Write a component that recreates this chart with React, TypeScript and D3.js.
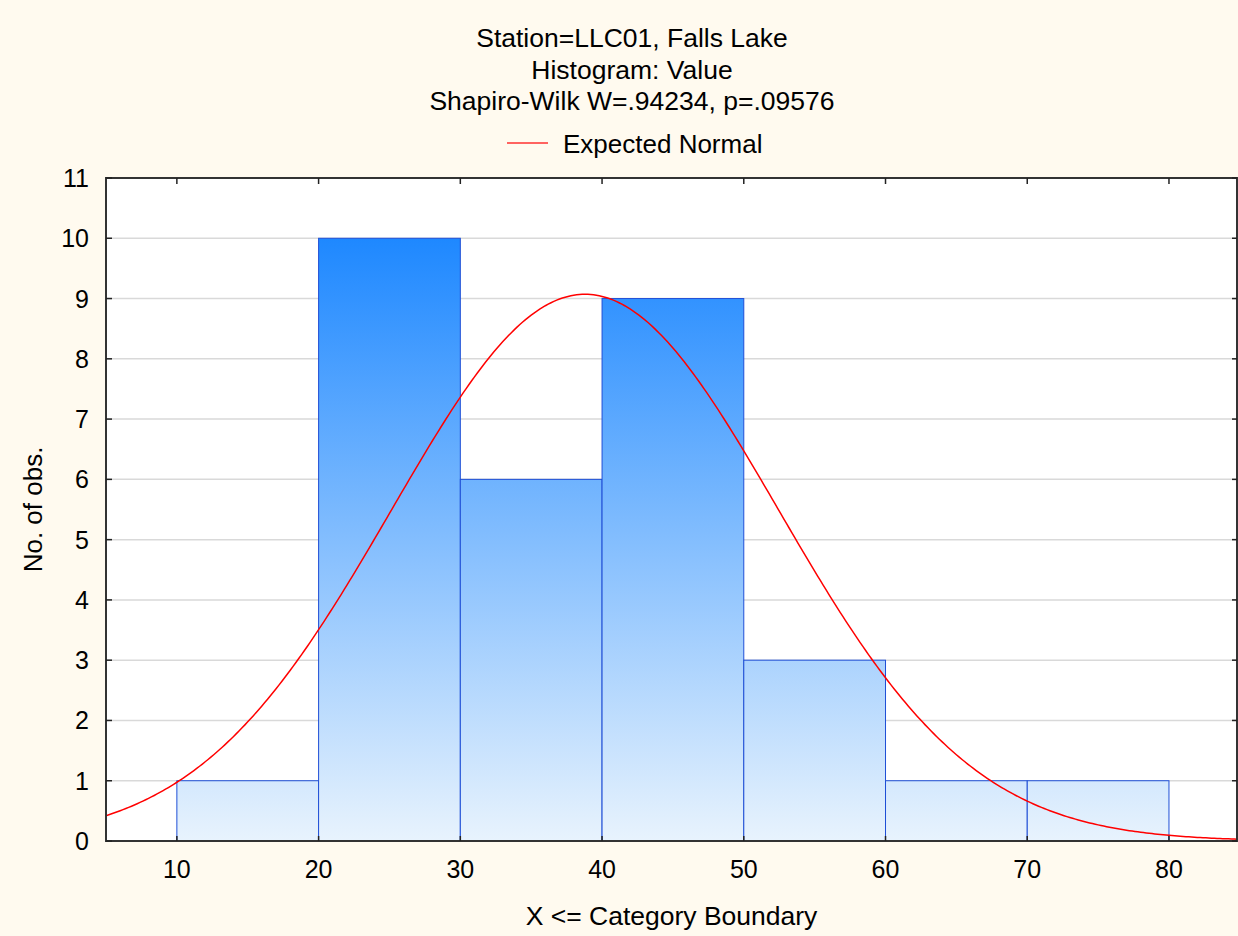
import React from "react";
import * as d3 from "d3";

const binStarts = [10, 20, 30, 40, 50, 60, 70];
const binCounts = [1, 10, 6, 9, 3, 1, 1];
const binWidth = 10;
const xTicks = [10, 20, 30, 40, 50, 60, 70, 80];
const yTicks = [0, 1, 2, 3, 4, 5, 6, 7, 8, 9, 10, 11];
const normalMean = 38.8;
const normalSd = 13.635;
const totalN = 31;
const titleLines = [
  "Station=LLC01, Falls Lake",
  "Histogram: Value",
  "Shapiro-Wilk W=.94234, p=.09576",
];
const legendLabel = "Expected Normal";

const W = 1238;
const H = 936;
const left = 106;
const right = 1237;
const top = 178;
const bottom = 841;
const FONT = "'Liberation Sans', Arial, sans-serif";
const FS = 25;
const TFS = 26.5;

export default function App() {
  const x = d3.scaleLinear().domain([5, 84.8]).range([left, right]);
  const y = d3.scaleLinear().domain([0, 11]).range([bottom, top]);

  const pdf = (v: number) =>
    (totalN * binWidth) / (normalSd * Math.sqrt(2 * Math.PI)) *
    Math.exp(-0.5 * ((v - normalMean) / normalSd) ** 2);
  const xs = d3.range(5, 84.81, 0.2);
  const line = d3
    .line<number>()
    .x((d) => x(d))
    .y((d) => y(pdf(d)))
    .curve(d3.curveLinear);

  return (
    <svg
      width={W}
      height={H}
      style={{ position: "absolute", left: 0, top: 0 }}
      fontFamily={FONT}
    >
      <defs>
        <linearGradient
          id="barGrad"
          gradientUnits="userSpaceOnUse"
          x1={0}
          x2={0}
          y1={y(10)}
          y2={y(0)}
        >
          <stop offset="0%" stopColor="#1e88ff" />
          <stop offset="100%" stopColor="#e8f3fd" />
        </linearGradient>
        <clipPath id="plotClip">
          <rect x={left} y={top} width={right - left} height={bottom - top} />
        </clipPath>
      </defs>
      <rect x={0} y={0} width={W} height={H} fill="#fffaef" />
      <rect x={left} y={top} width={right - left} height={bottom - top} fill="#ffffff" />

      {/* grid */}
      {yTicks
        .filter((t) => t > 0 && t < 11)
        .map((t) => (
          <line
            key={"g" + t}
            x1={left}
            x2={right}
            y1={y(t)}
            y2={y(t)}
            stroke="#d9d9d9"
            strokeWidth={1.5}
          />
        ))}

      {/* bars */}
      {binStarts.map((s, i) => (
        <rect
          key={"b" + i}
          x={x(s)}
          y={y(binCounts[i])}
          width={x(s + binWidth) - x(s)}
          height={y(0) - y(binCounts[i])}
          fill="url(#barGrad)"
          stroke="#1f4fd6"
          strokeWidth={1}
        />
      ))}

      {/* normal curve */}
      <path
        d={line(xs) || ""}
        fill="none"
        stroke="#ff0000"
        strokeWidth={1.5}
        clipPath="url(#plotClip)"
      />

      {/* frame */}
      <rect
        x={left}
        y={top}
        width={right - left}
        height={bottom - top}
        fill="none"
        stroke="#333333"
        strokeWidth={2}
      />

      {/* y ticks */}
      {yTicks.map((t) => (
        <g key={"yt" + t}>
          <line x1={left} x2={left + 6} y1={y(t)} y2={y(t)} stroke="#222" strokeWidth={1.5} />
          <line x1={right - 5} x2={right} y1={y(t)} y2={y(t)} stroke="#222" strokeWidth={1.5} />
          <text
            x={89}
            y={y(t)}
            dy="0.36em"
            textAnchor="end"
            fontSize={FS}
            fill="#000"
          >
            {t}
          </text>
        </g>
      ))}

      {/* x ticks */}
      {xTicks.map((t) => (
        <g key={"xt" + t}>
          <line x1={x(t)} x2={x(t)} y1={top} y2={top + 6} stroke="#222" strokeWidth={1.5} />
          <line x1={x(t)} x2={x(t)} y1={bottom - 5} y2={bottom} stroke="#222" strokeWidth={1.5} />
          <text x={x(t)} y={878} textAnchor="middle" fontSize={FS} fill="#000">
            {t}
          </text>
        </g>
      ))}

      {/* axis titles */}
      <text x={(left + right) / 2} y={925} textAnchor="middle" fontSize={TFS} fill="#000">
        X &lt;= Category Boundary
      </text>
      <text
        transform={`translate(42, ${(top + bottom) / 2}) rotate(-90)`}
        textAnchor="middle"
        fontSize={26}
        fill="#000"
      >
        No. of obs.
      </text>

      {/* titles */}
      {titleLines.map((t, i) => (
        <text
          key={"t" + i}
          x={632}
          y={[47, 79, 110][i]}
          textAnchor="middle"
          fontSize={TFS}
          fill="#000"
        >
          {t}
        </text>
      ))}

      {/* legend */}
      <line x1={507} x2={548} y1={143} y2={143} stroke="#ff3030" strokeWidth={1.5} />
      <text x={563} y={153} fontSize={26} fill="#000">
        {legendLabel}
      </text>
    </svg>
  );
}
